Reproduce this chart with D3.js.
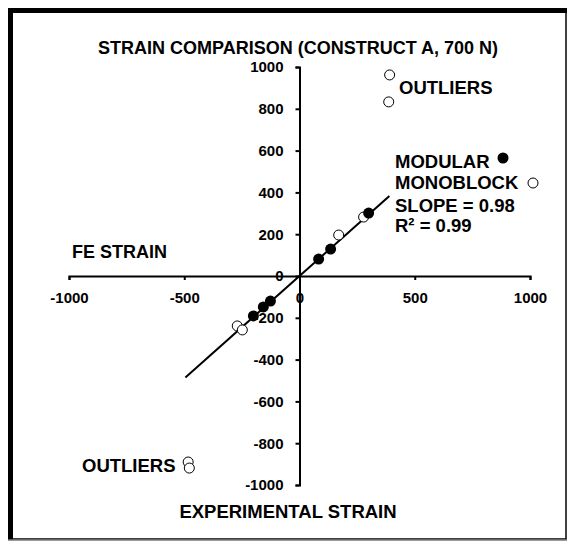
<!DOCTYPE html>
<html>
<head>
<meta charset="utf-8">
<script src="https://cdn.jsdelivr.net/npm/d3@7"></script>
<style>
	body { margin: 0; background: #fff; }
	text { font-family: "Liberation Sans", Arial, sans-serif; font-weight: bold; fill: #000; }
</style>
</head>
<body>
<svg id="chart" width="573" height="542"></svg>
<script>
// strain values (experimental, FE)
const modular_points = [
	[83, 81], [135, 129], [300, 301],
	[-126, -120], [-157, -148], [-200, -191]
];
const monoblock_points = [
	[170, 196], [278, 282],
	[-270, -239], [-248, -258]
];
const outlier_points = [
	[391, 962], [387, 833],
	[-483, -890], [-478, -919]
];
const x_ticks = [-1000, -500, 0, 500, 1000];
const y_ticks = [-1000, -800, -600, -400, -200, 0, 200, 400, 600, 800, 1000];
const fit_slope = 0.98;
const fit_range = [-495, 390];

const svg = d3.select("#chart");

// outer frame
svg.append("rect")
	.attr("x", 10).attr("y", 10)
	.attr("width", 556).attr("height", 529)
	.attr("fill", "none")
	.attr("stroke", "#000")
	.attr("stroke-width", 1.5);
svg.append("path")
	.attr("d", "M10.5,540 V10.5 H567")
	.attr("fill", "none")
	.attr("stroke", "#000")
	.attr("stroke-width", 5);
svg.append("line")
	.attr("x1", 8).attr("x2", 567)
	.attr("y1", 540).attr("y2", 540)
	.attr("stroke", "#777")
	.attr("stroke-width", 1.5);

const x = d3.scaleLinear().domain([-1000, 1000]).range([69, 530]);
const y = d3.scaleLinear().domain([-1000, 1000]).range([485, 67]);

// x axis through zero
const x_axis = d3.axisBottom(x)
	.tickValues(x_ticks)
	.tickSize(4)
	.tickSizeOuter(4)
	.tickPadding(12)
	.tickFormat(d => String(d));

const gx = svg.append("g")
	.attr("transform", "translate(0," + y(0) + ")")
	.call(x_axis);

// y axis through zero
const y_axis = d3.axisLeft(y)
	.tickValues(y_ticks)
	.tickSize(4)
	.tickSizeOuter(4)
	.tickPadding(12)
	.tickFormat(d => String(d));

const gy = svg.append("g")
	.attr("transform", "translate(" + x(0) + ",0)")
	.call(y_axis);

[gx, gy].forEach(g => {
	g.select(".domain").attr("stroke-width", 2);
	g.selectAll(".tick line").attr("stroke-width", 2);
	g.selectAll(".tick text")
		.style("font-size", "15px")
		.style("font-family", "Liberation Sans, Arial, sans-serif")
		.style("font-weight", "bold");
});

// fitted line
svg.append("line")
	.attr("x1", x(fit_range[0])).attr("y1", y(fit_slope * fit_range[0]))
	.attr("x2", x(fit_range[1])).attr("y2", y(fit_slope * fit_range[1]))
	.attr("stroke", "#000")
	.attr("stroke-width", 2);

const r = 5;

svg.selectAll(".mono")
	.data(monoblock_points.concat(outlier_points))
	.enter()
	.append("circle")
	.attr("cx", d => x(d[0]))
	.attr("cy", d => y(d[1]))
	.attr("r", r)
	.attr("fill", "#fff")
	.attr("stroke", "#000")
	.attr("stroke-width", 1);

svg.selectAll(".mod")
	.data(modular_points)
	.enter()
	.append("circle")
	.attr("cx", d => x(d[0]))
	.attr("cy", d => y(d[1]))
	.attr("r", 5.5)
	.attr("fill", "#000");

// title and labels
function label(txt, px, py, size, anchor) {
	svg.append("text")
		.attr("x", px).attr("y", py)
		.attr("text-anchor", anchor || "start")
		.style("font-size", size + "px")
		.text(txt);
}

label("STRAIN COMPARISON (CONSTRUCT A, 700 N)", 298, 54, 18, "middle");
label("OUTLIERS", 399, 94, 18.5);
label("OUTLIERS", 82, 472, 18.5);
label("FE STRAIN", 72, 258, 18);
label("EXPERIMENTAL STRAIN", 288, 518, 18.5, "middle");

// legend
label("MODULAR", 395, 168, 18.5);
label("MONOBLOCK", 395, 189, 18.5);
label("SLOPE = 0.98", 395, 212, 18.5);
label("R\u00B2 = 0.99", 395, 232, 18.5);

svg.append("circle").attr("cx", 503).attr("cy", 158).attr("r", 5.5).attr("fill", "#000");
svg.append("circle").attr("cx", 533).attr("cy", 183).attr("r", r)
	.attr("fill", "#fff").attr("stroke", "#000").attr("stroke-width", 1);
</script>
</body>
</html>
